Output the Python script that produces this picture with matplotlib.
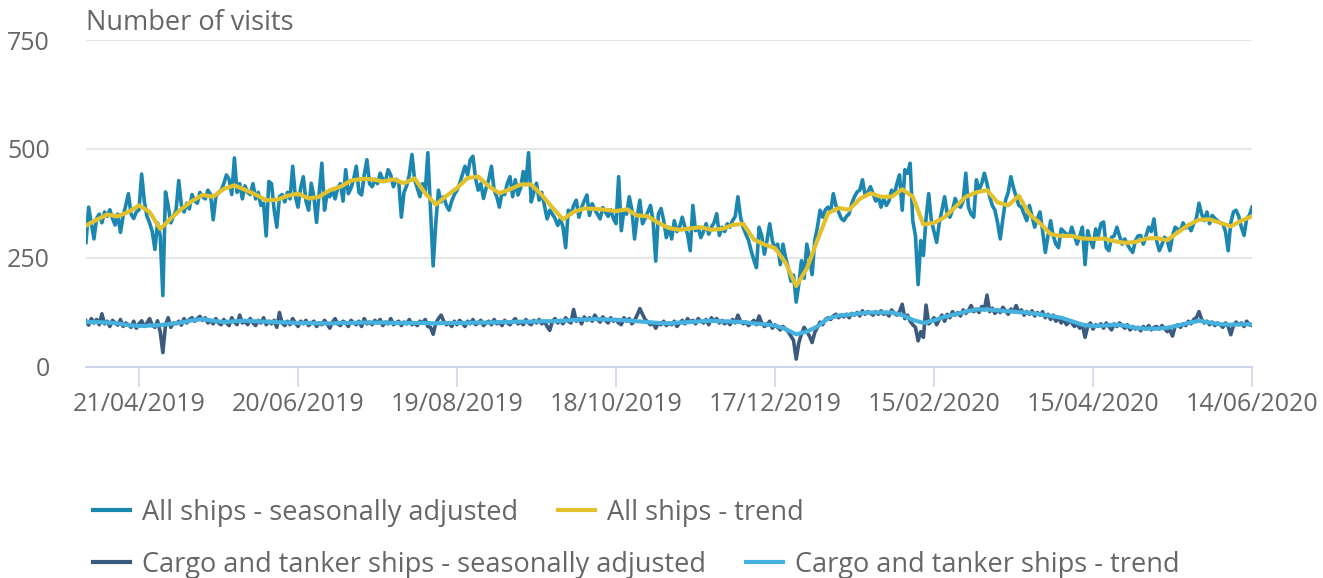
import numpy as np
import pandas as pd
import matplotlib
matplotlib.use("Agg")
import matplotlib.pyplot as plt
import matplotlib.dates as mdates
from matplotlib.lines import Line2D

plt.rcParams['font.family'] = ['Open Sans', 'DejaVu Sans']

# daily series, 01/04/2019 .. 14/06/2020
start_day = '2019-04-01'

all_ships_sa = [
    285, 366, 330, 293, 340, 350, 330, 355, 345, 360,
    340, 325, 350, 308, 345, 370, 397, 350, 340, 355,
    360, 442, 380, 345, 330, 310, 269, 330, 300, 163,
    401, 370, 330, 345, 360, 427, 370, 355, 375, 362,
    395, 380, 375, 400, 390, 385, 405, 395, 337, 390,
    400, 405, 420, 440, 430, 395, 479, 400, 420, 385,
    415, 400, 395, 420, 385, 400, 370, 375, 300, 425,
    420, 360, 320, 390, 395, 378, 400, 385, 460, 390,
    366, 410, 436, 380, 359, 421, 390, 331, 400, 467,
    359, 397, 390, 405, 385, 410, 420, 380, 452, 397,
    410, 430, 460, 400, 394, 440, 475, 420, 413, 430,
    420, 444, 430, 425, 452, 440, 413, 430, 425, 343,
    400, 415, 440, 487, 429, 410, 390, 420, 400, 491,
    360, 231, 330, 405, 378, 390, 370, 359, 380, 395,
    405, 420, 440, 460, 440, 475, 483, 432, 405, 420,
    386, 410, 430, 460, 405, 390, 366, 400, 395, 421,
    436, 390, 429, 394, 410, 448, 420, 491, 378, 400,
    421, 382, 400, 370, 339, 359, 350, 340, 324, 339,
    320, 273, 359, 350, 370, 382, 343, 365, 380, 394,
    347, 374, 360, 350, 339, 365, 355, 345, 360, 340,
    328, 436, 312, 359, 350, 390, 360, 293, 345, 382,
    328, 340, 355, 370, 335, 242, 350, 363, 335, 296,
    320, 293, 335, 310, 320, 343, 320, 304, 266, 370,
    312, 320, 296, 310, 328, 304, 320, 330, 351, 301,
    320, 310, 328, 320, 335, 345, 390, 343, 320, 304,
    290, 266, 245, 227, 320, 300, 258, 290, 328, 289,
    270, 281, 234, 281, 250, 227, 196, 210, 148, 190,
    243, 203, 281, 250, 211, 289, 320, 359, 343, 360,
    366, 355, 397, 370, 355, 340, 335, 345, 351, 375,
    390, 401, 405, 429, 394, 400, 413, 397, 380, 390,
    366, 386, 370, 380, 405, 395, 420, 440, 359, 452,
    444, 467, 335, 300, 188, 289, 255, 340, 397, 335,
    310, 285, 330, 359, 390, 351, 343, 360, 386, 370,
    366, 380, 444, 366, 350, 343, 429, 405, 420, 444,
    420, 390, 370, 359, 330, 293, 340, 382, 400, 436,
    410, 390, 370, 366, 350, 335, 370, 345, 320, 340,
    355, 310, 262, 300, 335, 300, 281, 273, 316, 310,
    304, 300, 320, 300, 281, 300, 320, 234, 312, 290,
    273, 316, 300, 328, 332, 273, 266, 297, 300, 320,
    300, 281, 293, 280, 270, 262, 289, 300, 301, 281,
    300, 320, 310, 339, 289, 266, 280, 297, 290, 266,
    300, 320, 315, 312, 330, 318, 324, 312, 328, 340,
    375, 350, 335, 355, 328, 347, 340, 335, 330, 328,
    310, 266, 330, 355, 359, 345, 320, 301, 340, 347,
    366,
]

cargo_sa = [
    105, 95, 110, 100, 108, 96, 121, 98, 104, 92,
    106, 100, 95, 108, 92, 100, 96, 90, 104, 88,
    98, 105, 92, 100, 110, 95, 90, 105, 80, 32,
    95, 112, 90, 100, 98, 104, 95, 110, 100, 108,
    112, 104, 110, 115, 106, 112, 100, 106, 98, 110,
    100, 96, 108, 100, 94, 112, 102, 96, 118, 100,
    104, 96, 110, 100, 94, 106, 100, 112, 96, 104,
    98, 106, 90, 124, 100, 94, 104, 96, 110, 100,
    92, 104, 98, 106, 94, 100, 104, 92, 100, 96,
    106, 98, 88, 102, 110, 98, 94, 104, 100, 92,
    106, 100, 96, 104, 92, 110, 98, 102, 96, 106,
    100, 108, 94, 102, 98, 110, 96, 100, 104, 94,
    102, 98, 108, 96, 100, 94, 104, 100, 108, 92,
    90, 74, 100, 110, 118, 104, 96, 100, 92, 104,
    96, 106, 100, 92, 104, 98, 108, 96, 100, 106,
    94, 100, 104, 96, 108, 98, 102, 94, 106, 100,
    96, 104, 110, 98, 102, 96, 108, 100, 96, 106,
    100, 108, 98, 104, 92, 83, 104, 110, 100, 106,
    98, 112, 104, 100, 131, 104, 110, 98, 114, 106,
    112, 104, 118, 108, 102, 114, 106, 100, 112, 104,
    108, 100, 96, 112, 104, 110, 98, 106, 118, 133,
    120, 108, 102, 96, 100, 88, 100, 96, 104, 94,
    100, 96, 104, 92, 100, 106, 98, 110, 102, 106,
    98, 110, 104, 100, 108, 96, 112, 104, 110, 100,
    106, 98, 104, 96, 108, 100, 118, 104, 98, 102,
    94, 100, 106, 96, 116, 100, 92, 96, 104, 88,
    96, 90, 84, 92, 86, 80, 70, 60, 17, 55,
    75, 90, 80, 70, 55, 78, 90, 102, 96, 108,
    112, 108, 116, 120, 112, 118, 114, 120, 112, 122,
    118, 124, 116, 128, 120, 126, 122, 118, 126, 120,
    128, 120, 124, 116, 130, 122, 118, 126, 143, 110,
    118, 104, 96, 90, 59, 80, 67, 141, 98, 104,
    112, 96, 108, 118, 104, 120, 112, 126, 118, 124,
    116, 130, 122, 128, 140, 126, 132, 124, 138, 130,
    164, 126, 134, 122, 130, 124, 136, 128, 120, 132,
    126, 140, 124, 130, 118, 126, 120, 128, 116, 124,
    118, 126, 112, 120, 108, 118, 104, 112, 100, 108,
    96, 104, 100, 92, 98, 88, 96, 67, 92, 100,
    86, 96, 92, 98, 88, 100, 92, 84, 98, 92,
    100, 94, 88, 96, 84, 92, 86, 90, 82, 92,
    86, 94, 84, 90, 92, 86, 94, 88, 80, 84,
    70, 92, 96, 90, 98, 94, 104, 98, 108, 112,
    126, 108, 100, 104, 96, 102, 94, 100, 96, 90,
    100, 92, 73, 94, 102, 96, 100, 92, 104, 96,
    94,
]

# trend series, read every 4 days
all_ships_trend = [
    324, 337, 349, 345, 355, 370, 355, 316, 340, 362,
    380, 394, 390, 408, 416, 406, 395, 382, 383, 392,
    397, 386, 390, 405, 413, 427, 431, 430, 425, 430,
    421, 432, 398, 372, 392, 410, 433, 436, 414, 398,
    407, 418, 418, 394, 365, 338, 355, 363, 362, 360,
    357, 361, 347, 345, 330, 318, 314, 317, 320, 314,
    316, 325, 328, 292, 280, 272, 238, 185, 225, 290,
    352, 364, 360, 385, 398, 390, 390, 407, 390, 326,
    330, 343, 366, 390, 400, 405, 377, 370, 392, 350,
    329, 304, 300, 300, 294, 293, 294, 288, 284, 286,
    294, 295, 290, 308, 325, 337, 338, 330, 322, 335,
    345,
]

cargo_trend = [
    102, 102, 101, 99, 95, 93, 94, 95, 98, 101,
    106, 109, 105, 102, 104, 105, 104, 103, 102, 101,
    100, 100, 99, 99, 100, 100, 101, 101, 101, 100,
    100, 100, 100, 99, 100, 100, 100, 101, 101, 102,
    102, 103, 103, 104, 104, 105, 107, 108, 109, 108,
    107, 106, 104, 102, 100, 99, 101, 102, 104, 105,
    104, 103, 102, 99, 97, 94, 86, 74, 80, 92,
    110, 117, 119, 122, 124, 124, 124, 118, 107, 100,
    106, 114, 120, 126, 131, 131, 129, 127, 125, 123,
    120, 116, 112, 104, 96, 93, 94, 96, 94, 89,
    87, 87, 89, 94, 100, 105, 101, 97, 96, 97,
    97,
]

tick_dates = ['2019-04-21', '2019-06-20', '2019-08-19', '2019-10-18',
              '2019-12-17', '2020-02-15', '2020-04-15', '2020-06-14']

series_labels = ['All ships - seasonally adjusted', 'All ships - trend',
                 'Cargo and tanker ships - seasonally adjusted',
                 'Cargo and tanker ships - trend']
colors = ['#1b87b0', '#e3c12c', '#3a5a7e', '#44b1de']

days = pd.date_range(start_day, periods=len(all_ships_sa), freq='D')
days4 = pd.date_range(start_day, periods=len(all_ships_trend), freq='4D')

W, H = 1323, 578
fig = plt.figure(figsize=(W / 100, H / 100), dpi=100)
ax = fig.add_axes([86 / W, 1 - 366.5 / H, (1252 - 86) / W, (366.5 - 40) / H])

ax.plot(days, all_ships_sa, color=colors[0], lw=2.6, zorder=3)
ax.plot(days4, all_ships_trend, color=colors[1], lw=3.0, zorder=4)
ax.plot(days, cargo_sa, color=colors[2], lw=2.6, zorder=3)
ax.plot(days4, cargo_trend, color=colors[3], lw=3.0, zorder=4)

ax.set_xlim(days[0], days[-1])
ax.set_ylim(0, 750)
ax.set_yticks([0, 250, 500, 750])
ax.grid(axis='y', color='#e6e6e6', lw=1.5)
ax.set_axisbelow(True)
for s in ['top', 'right', 'left']:
    ax.spines[s].set_visible(False)
ax.spines['bottom'].set_color('#ccd6eb')
ax.spines['bottom'].set_linewidth(1.5)
ax.spines['bottom'].set_zorder(1)

ax.set_xticks(pd.to_datetime(tick_dates))
ax.xaxis.set_major_formatter(mdates.DateFormatter('%d/%m/%Y'))
ax.tick_params(axis='x', length=14.5, width=1.2, color='#ccd6eb',
               labelsize=18, labelcolor='#666666', pad=4)
ax.tick_params(axis='y', length=0, labelsize=18, labelcolor='#666666', pad=26)

fig.text(86 / W, 1 - 30 / H, 'Number of visits', fontsize=19.5, color='#666666',
         va='baseline', ha='left')

# legend, laid out like the original
leg_pos = [(93, 509.5), (558, 509.5), (93, 561.5), (746, 561.5)]
for (lx, ly), lab, c in zip(leg_pos, series_labels, colors):
    fig.add_artist(Line2D([lx / W, (lx + 37) / W], [1 - ly / H, 1 - ly / H],
                          color=c, lw=3, transform=fig.transFigure))
    fig.text((lx + 49) / W, 1 - (ly + 10.5) / H, lab, fontsize=19.5,
             color='#666666', va='baseline', ha='left')

fig.savefig('out.png', dpi=100)
